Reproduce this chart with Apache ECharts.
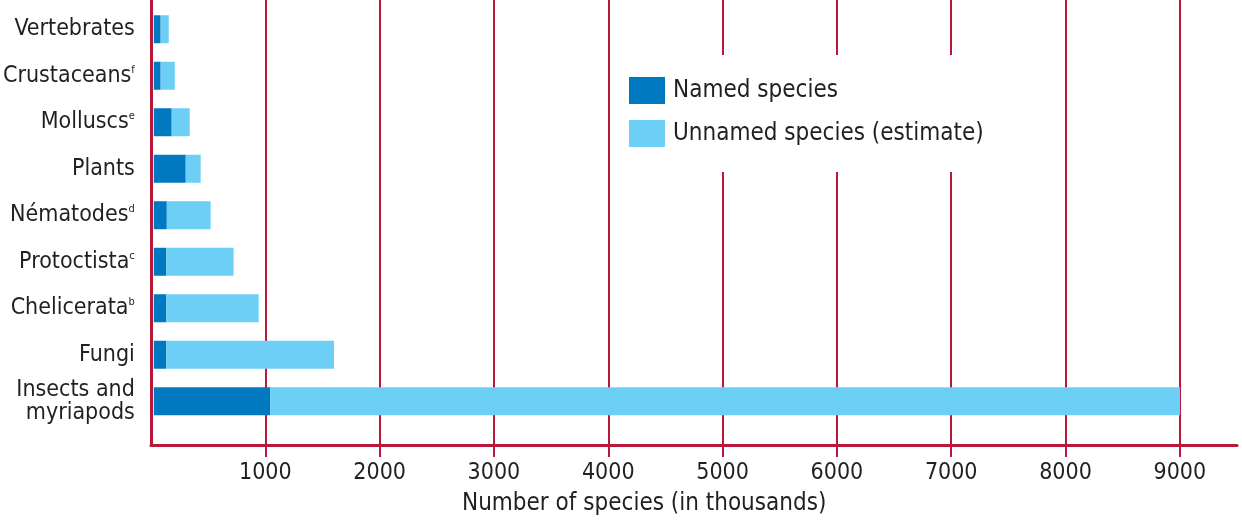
<!DOCTYPE html>
<html>
<head>
<meta charset="utf-8">
<script src="https://cdn.jsdelivr.net/npm/echarts@6/dist/echarts.min.js"></script>
<style>
html,body{margin:0;padding:0;background:#fff;}
#c{width:1242px;height:521px;}
</style>
</head>
<body>
<div id="c"></div>
<script>
const categories = ['Vertebrates', 'Crustaceans', 'Molluscs', 'Plants', 'Nématodes', 'Protoctista', 'Chelicerata', 'Fungi', 'Insects and\nmyriapods'];
const superscripts = ['', 'f', 'e', '', 'd', 'c', 'b', '', ''];
const namedSpecies = [60, 60, 157, 280, 114, 110, 110, 110, 1020];
const unnamedSpecies = [71, 124, 158, 131, 384, 590, 810, 1470, 7980];
const xTicks = [1000, 2000, 3000, 4000, 5000, 6000, 7000, 8000, 9000];
const seriesNames = ['Named species', 'Unnamed species (estimate)'];
const axisTitle = 'Number of species (in thousands)';

const FONT = '"Liberation Sans Narrow", "DejaVu Sans Condensed", "Roboto", sans-serif';
const RED = '#b8193b';
const TXT = '#231f20';

// layout: full x range 0..X_MAX spans PLOT_LEFT..PLOT_RIGHT
const X_MAX = 9500, PLOT_LEFT = 151, PLOT_RIGHT = 1237, W = 1242;
const pxPerUnit = (PLOT_RIGHT - PLOT_LEFT) / X_MAX;
const tickFirst = xTicks[0], tickLast = xTicks[xTicks.length - 1];

const chart = echarts.init(document.getElementById('c'), null, {renderer: 'canvas'});
chart.setOption({
  animation: false,
  backgroundColor: '#fff',
  title: {
    text: axisTitle,
    left: 457, top: 487,
    textStyle: {fontFamily: FONT, fontSize: 24, fontWeight: 'normal', color: TXT}
  },
  legend: {
    data: seriesNames,
    orient: 'vertical',
    left: 615, top: 55,
    padding: [22, 14, 25, 14],
    backgroundColor: '#fff',
    itemWidth: 36, itemHeight: 27, itemGap: 16,
    icon: 'rect',
    textStyle: {fontFamily: FONT, fontSize: 24, color: TXT, padding: [0, 0, 0, 3]},
    z: 10
  },
  grid: [
    // 0: labels and vertical gridlines (1000..9000), lines run past the axis as ticks
    {left: PLOT_LEFT + tickFirst * pxPerUnit, right: W - (PLOT_LEFT + tickLast * pxPerUnit), top: 0, bottom: 64},
    // 1: bars
    {left: PLOT_LEFT, right: W - PLOT_RIGHT, top: 6, height: 418.5},
    // 2: axis lines frame
    {left: PLOT_LEFT, right: W - PLOT_RIGHT, top: 0, bottom: 76}
  ],
  xAxis: [
    {
      gridIndex: 0, type: 'value', min: tickFirst, max: tickLast, interval: 1000,
      axisLine: {show: false},
      axisTick: {show: false},
      axisLabel: {show: true, margin: 5, fontFamily: FONT, fontSize: 23, color: TXT,
        formatter: function (v) { return String(v); }},
      splitLine: {show: true, lineStyle: {color: RED, width: 2}}
    },
    {
      gridIndex: 1, type: 'value', min: 0, max: X_MAX, show: false,
      splitLine: {show: false}
    },
    {
      gridIndex: 2, type: 'value', min: 0, max: X_MAX,
      axisLine: {show: true, lineStyle: {color: RED, width: 3}},
      axisTick: {show: false}, axisLabel: {show: false}, splitLine: {show: false}
    }
  ],
  yAxis: [
    {
      gridIndex: 0, type: 'value', min: 0, max: 1, show: false, splitLine: {show: false}
    },
    {
      gridIndex: 1, type: 'category', inverse: true, data: categories,
      axisLine: {show: false}, axisTick: {show: false}, splitLine: {show: false},
      axisLabel: {
        margin: 19,
        formatter: function (v, i) {
          const s = superscripts[i];
          const lines = v.split('\n');
          return lines.map(function (l, k) {
            return (k === lines.length - 1 && s) ? '{a|' + l + '}{s|' + s + '}' : '{a|' + l + '}';
          }).join('\n');
        },
        rich: {
          a: {fontFamily: FONT, fontSize: 23, color: TXT, lineHeight: 23},
          s: {fontFamily: FONT, fontSize: 11, color: TXT, verticalAlign: 'top', lineHeight: 11}
        }
      }
    },
    {
      gridIndex: 2, type: 'value', min: 0, max: 1,
      axisLine: {show: true, lineStyle: {color: RED, width: 3}},
      axisTick: {show: false}, axisLabel: {show: false}, splitLine: {show: false}
    }
  ],
  series: [
    {
      name: seriesNames[0], type: 'bar', stack: 's', xAxisIndex: 1, yAxisIndex: 1,
      barWidth: 28, itemStyle: {color: '#0079c1'}, data: namedSpecies
    },
    {
      name: seriesNames[1], type: 'bar', stack: 's', xAxisIndex: 1, yAxisIndex: 1,
      barWidth: 28, itemStyle: {color: '#6dcff6'}, data: unnamedSpecies
    }
  ]
});
</script>
</body>
</html>
